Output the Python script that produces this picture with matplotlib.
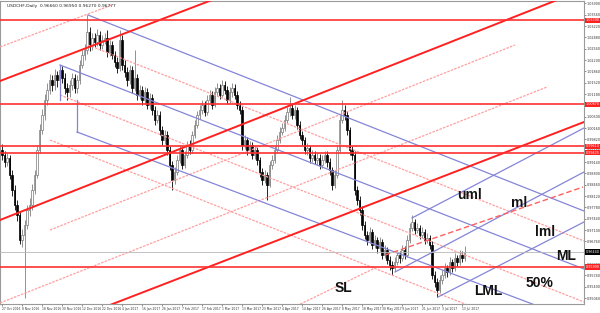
import numpy as np
import matplotlib
matplotlib.use('Agg')
import matplotlib.pyplot as plt
import matplotlib.transforms as mtransforms

# daily USDCHF candles
first_open = 0.9950
closes = [
    0.9935, 0.9914, 0.9926, 0.9875, 0.9830, 0.9785, 0.9755, 0.9680, 0.9695, 0.9725,
    0.9770, 0.9785, 0.9830, 0.9875, 0.9950, 1.0010, 1.0055, 1.0100, 1.0130, 1.0160,
    1.0145, 1.0175, 1.0160, 1.0190, 1.0166, 1.0136, 1.0124, 1.0145, 1.0166, 1.0136,
    1.0160, 1.0205, 1.0235, 1.0250, 1.0304, 1.0265, 1.0286, 1.0274, 1.0295, 1.0265,
    1.0280, 1.0286, 1.0244, 1.0265, 1.0235, 1.0214, 1.0196, 1.0280, 1.0205, 1.0184,
    1.0160, 1.0190, 1.0136, 1.0166, 1.0115, 1.0130, 1.0100, 1.0124, 1.0085, 1.0106,
    1.0070, 1.0040, 1.0055, 1.0010, 0.9980, 0.9995, 0.9950, 0.9905, 0.9860, 0.9884,
    0.9920, 0.9950, 0.9905, 0.9935, 0.9965, 0.9950, 0.9995, 1.0025, 1.0055, 1.0070,
    1.0085, 1.0064, 1.0100, 1.0115, 1.0085, 1.0124, 1.0136, 1.0115, 1.0145, 1.0130,
    1.0100, 1.0124, 1.0136, 1.0115, 1.0085, 1.0070, 0.9965, 0.9980, 0.9950, 0.9965,
    0.9935, 0.9950, 0.9920, 0.9884, 0.9860, 0.9875, 0.9845, 0.9905, 0.9920, 0.9950,
    0.9980, 1.0004, 1.0016, 1.0040, 1.0064, 1.0076, 1.0055, 1.0070, 1.0025, 0.9995,
    0.9980, 0.9950, 0.9956, 0.9926, 0.9935, 0.9920, 0.9926, 0.9905, 0.9920, 0.9935,
    0.9914, 0.9890, 0.9845, 0.9875, 0.9950, 1.0040, 1.0070, 1.0055, 1.0010, 0.9950,
    0.9935, 0.9830, 0.9800, 0.9770, 0.9725, 0.9695, 0.9680, 0.9704, 0.9665, 0.9680,
    0.9656, 0.9674, 0.9635, 0.9650, 0.9620, 0.9605, 0.9596, 0.9614, 0.9635, 0.9626,
    0.9650, 0.9635, 0.9680, 0.9716, 0.9734, 0.9710, 0.9716, 0.9695, 0.9704, 0.9680,
    0.9686, 0.9665, 0.9575, 0.9554, 0.9530, 0.9560, 0.9575, 0.9596, 0.9584, 0.9614,
    0.9596, 0.9626, 0.9614, 0.9635, 0.9626, 0.9644]
highs = [
    0.9968, 0.9947, 0.9941, 0.9934, 0.9890, 0.9846, 0.9801, 0.9768, 0.9712, 0.9740,
    0.9786, 0.9805, 0.9848, 0.9890, 0.9966, 1.0028, 1.0072, 1.0118, 1.0150, 1.0178,
    1.0176, 1.0192, 1.0188, 1.0206, 1.0202, 1.0180, 1.0152, 1.0160, 1.0182, 1.0178,
    1.0174, 1.0220, 1.0250, 1.0268, 1.0355, 1.0318, 1.0302, 1.0300, 1.0312, 1.0306,
    1.0296, 1.0301, 1.0310, 1.0280, 1.0276, 1.0248, 1.0230, 1.0310, 1.0294, 1.0220,
    1.0198, 1.0206, 1.0202, 1.0250, 1.0178, 1.0146, 1.0142, 1.0140, 1.0136, 1.0122,
    1.0118, 1.0082, 1.0070, 1.0066, 1.0022, 1.0010, 1.0006, 0.9962, 0.9918, 0.9900,
    0.9934, 0.9964, 0.9962, 0.9948, 0.9978, 0.9980, 1.0008, 1.0040, 1.0068, 1.0085,
    1.0100, 1.0098, 1.0114, 1.0130, 1.0126, 1.0138, 1.0152, 1.0148, 1.0160, 1.0158,
    1.0142, 1.0138, 1.0150, 1.0148, 1.0126, 1.0098, 1.0082, 0.9995, 0.9990, 0.9978,
    0.9975, 0.9962, 0.9960, 0.9930, 0.9895, 0.9890, 0.9884, 0.9918, 0.9934, 0.9963,
    0.9994, 1.0018, 1.0030, 1.0054, 1.0078, 1.0109, 1.0088, 1.0084, 1.0080, 1.0036,
    1.0008, 0.9990, 0.9970, 0.9966, 0.9950, 0.9948, 0.9942, 0.9938, 0.9934, 0.9948,
    0.9946, 0.9926, 0.9900, 0.9890, 0.9966, 1.0056, 1.0100, 1.0086, 1.0066, 1.0020,
    0.9962, 0.9946, 0.9842, 0.9812, 0.9782, 0.9738, 0.9708, 0.9718, 0.9714, 0.9694,
    0.9690, 0.9688, 0.9684, 0.9664, 0.9660, 0.9632, 0.9618, 0.9628, 0.9648, 0.9646,
    0.9664, 0.9662, 0.9694, 0.9730, 0.9755, 0.9744, 0.9732, 0.9726, 0.9718, 0.9714,
    0.9700, 0.9696, 0.9676, 0.9586, 0.9566, 0.9574, 0.9590, 0.9610, 0.9606, 0.9628,
    0.9624, 0.9640, 0.9636, 0.9650, 0.9646, 0.9662]
lows = [
    0.9921, 0.9898, 0.9902, 0.9862, 0.9812, 0.9770, 0.9738, 0.9668, 0.9660, 0.9506,
    0.9712, 0.9752, 0.9771, 0.9818, 0.9866, 0.9941, 0.9998, 1.0040, 1.0085, 1.0118,
    1.0128, 1.0131, 1.0140, 1.0148, 1.0150, 1.0118, 1.0100, 1.0110, 1.0130, 1.0120,
    1.0122, 1.0148, 1.0195, 1.0220, 1.0238, 1.0248, 1.0250, 1.0258, 1.0262, 1.0250,
    1.0254, 1.0268, 1.0230, 1.0232, 1.0222, 1.0200, 1.0182, 1.0188, 1.0190, 1.0168,
    1.0142, 1.0148, 1.0120, 1.0126, 1.0100, 1.0102, 1.0086, 1.0088, 1.0072, 1.0074,
    1.0056, 1.0025, 1.0030, 0.9996, 0.9965, 0.9968, 0.9936, 0.9890, 0.9830, 0.9848,
    0.9875, 0.9910, 0.9892, 0.9895, 0.9926, 0.9938, 0.9942, 0.9986, 1.0016, 1.0044,
    1.0058, 1.0052, 1.0056, 1.0090, 1.0072, 1.0078, 1.0112, 1.0102, 1.0108, 1.0118,
    1.0088, 1.0092, 1.0110, 1.0104, 1.0072, 1.0058, 0.9950, 0.9952, 0.9936, 0.9940,
    0.9922, 0.9924, 0.9906, 0.9870, 0.9846, 0.9850, 0.9800, 0.9838, 0.9894, 0.9912,
    0.9940, 0.9970, 0.9995, 1.0008, 1.0030, 1.0052, 1.0044, 1.0042, 1.0012, 0.9982,
    0.9966, 0.9938, 0.9936, 0.9912, 0.9914, 0.9908, 0.9906, 0.9892, 0.9896, 0.9910,
    0.9900, 0.9876, 0.9830, 0.9836, 0.9866, 0.9942, 1.0030, 1.0040, 0.9996, 0.9936,
    0.9920, 0.9815, 0.9786, 0.9755, 0.9710, 0.9682, 0.9664, 0.9670, 0.9652, 0.9656,
    0.9642, 0.9646, 0.9622, 0.9626, 0.9608, 0.9590, 0.9575, 0.9586, 0.9604, 0.9612,
    0.9616, 0.9622, 0.9628, 0.9672, 0.9706, 0.9698, 0.9700, 0.9684, 0.9686, 0.9668,
    0.9670, 0.9652, 0.9562, 0.9540, 0.9509, 0.9520, 0.9548, 0.9566, 0.9570, 0.9576,
    0.9584, 0.9588, 0.9602, 0.9604, 0.9614, 0.9618]

date_ticks = list(range(0, 186, 8))
date_labels = ['27 Oct 2016', '8 Nov 2016', '18 Nov 2016', '30 Nov 2016', '12 Dec 2016',
               '22 Dec 2016', '4 Jan 2017', '16 Jan 2017', '26 Jan 2017', '7 Feb 2017',
               '17 Feb 2017', '1 Mar 2017', '13 Mar 2017', '23 Mar 2017', '4 Apr 2017',
               '14 Apr 2017', '26 Apr 2017', '8 May 2017', '18 May 2017', '30 May 2017',
               '9 Jun 2017', '21 Jun 2017', '3 Jul 2017', '13 Jul 2017']
price_ticks = [1.0390, 1.0356, 1.0322, 1.0288, 1.0254, 1.0220, 1.0186, 1.0152, 1.0118,
               1.0084, 1.0050, 1.0016, 0.9982, 0.9948, 0.9914, 0.9880, 0.9846, 0.9812,
               0.9778, 0.9744, 0.9710, 0.9676, 0.9642, 0.9608, 0.9574, 0.9540, 0.9506]

# horizontal support / resistance levels
levels = [1.0339, 1.0087, 0.9961, 0.99425, 0.9599]
last_price = 0.9644

# trend lines: (bar0, price0, bar1, price1)
red_lines = [(-0.8, 1.0157, 84.0, 1.0400),
             (-0.8, 0.9740, 222.0, 1.0400),
             (43.2, 0.9485, 232.8, 1.0034)]
red_dashed = [(153.2, 0.9635, 232.4, 0.9839)]
pink_lines = [(-0.8, 1.0259, 44.0, 1.0385),
              (19.2, 0.9710, 205.2, 1.0265),
              (-0.8, 0.9491, 218.0, 1.0139),
              (115.2, 0.9473, 149.2, 0.9596),
              (34.4, 1.0265, 232.8, 0.9677),
              (23.2, 1.0115, 232.8, 0.9494),
              (19.2, 0.9980, 187.2, 0.9482)]
blue_lines = [(34.4, 1.0355, 232.8, 0.9767),
              (23.2, 1.0205, 232.8, 0.9593),
              (30.0, 1.0004, 213.2, 0.9485),
              (23.2, 1.0205, 23.2, 1.0100),
              (30.0, 1.0100, 30.0, 1.0004),
              (164.0, 0.9746, 232.8, 1.0016),
              (157.2, 0.9584, 232.8, 0.9884),
              (174.4, 0.9509, 232.8, 0.9734)]

labels = [('uml', 186.8, 0.9815), ('ml', 206.8, 0.9791), ('lml', 217.2, 0.9704),
          ('ML', 225.6, 0.9632), ('50%', 214.8, 0.9551), ('LML', 194.4, 0.9527),
          ('SL', 136.4, 0.9536)]

fig = plt.figure(figsize=(6.0, 3.13), dpi=100)
ax = fig.add_axes([0.0, 9 / 313, 584 / 600, 303 / 313])
ax.set_xlim(-0.8, 232.8)
ax.set_ylim(0.9488, 1.0397)

# candles
opens = np.array([first_open] + closes[:-1])
c = np.array(closes)
h = np.array(highs)
l = np.array(lows)
idx = np.arange(len(c))
up = c >= opens
bottom = np.minimum(opens, c)
height = np.maximum(np.abs(c - opens), 0.00012)
ax.vlines(idx[up], l[up], h[up], color='#808080', lw=0.6, zorder=2)
ax.vlines(idx[~up], l[~up], h[~up], color='black', lw=0.6, zorder=2)
ax.bar(idx[up], height[up], bottom=bottom[up], width=0.6, color='white',
       edgecolor='#777777', linewidth=0.5, zorder=3)
ax.bar(idx[~up], height[~up], bottom=bottom[~up], width=0.6, color='black',
       edgecolor='black', linewidth=0.5, zorder=3)

for i0, p0, i1, p1 in pink_lines:
    ax.plot([i0, i1], [p0, p1], color='#ff9f9f', lw=0.9, ls=(0, (2, 1)), zorder=4)
for i0, p0, i1, p1 in blue_lines:
    ax.plot([i0, i1], [p0, p1], color='#8585d8', lw=0.9, zorder=4)
for i0, p0, i1, p1 in red_dashed:
    ax.plot([i0, i1], [p0, p1], color='#ff6060', lw=1.0, ls=(0, (4, 2)), zorder=4)
for i0, p0, i1, p1 in red_lines:
    ax.plot([i0, i1], [p0, p1], color='#ff2020', lw=1.4, zorder=5)

for lv in levels:
    ax.axhline(lv, color='#ff3030', lw=1.2, zorder=5)
ax.axhline(last_price, color='#b8b8b8', lw=0.6, zorder=4)

for txt, xi, yp in labels:
    ax.text(xi, yp, txt, fontsize=10, fontweight='bold', color='#111111',
            ha='center', va='center', family='Liberation Sans', zorder=6)

# right-hand axis boxes
trans = mtransforms.blended_transform_factory(ax.transAxes, ax.transData)
for lv in levels:
    ax.text(1.003, lv, f'{lv:.5f}', transform=trans, fontsize=2.4, color='white',
            va='center', ha='left', clip_on=False,
            bbox=dict(boxstyle='square,pad=0.2', fc='#ff2020', ec='none'))
ax.text(1.003, last_price, f'{last_price:.5f}', transform=trans, fontsize=2.4,
        color='white', va='center', ha='left', clip_on=False,
        bbox=dict(boxstyle='square,pad=0.2', fc='black', ec='none'))

ax.yaxis.tick_right()
ax.set_yticks(price_ticks)
ax.set_yticklabels([f'{p:.5f}' for p in price_ticks])
ax.set_xticks(date_ticks)
ax.set_xticklabels(date_labels)
for t in ax.get_xticklabels():
    t.set_ha('left')
ax.tick_params(axis='y', labelsize=2.4, length=1.2, width=0.4, pad=0.8,
               colors='#333333')
ax.tick_params(axis='x', labelsize=2.2, length=1.5, width=0.4, pad=1,
               colors='#333333')
for s in ax.spines.values():
    s.set_color('#9a9a9a')
    s.set_linewidth(0.8)

fig.text(0.012, 0.982, 'USDCHF,Daily  0.96660 0.96950 0.96270 0.96777',
         fontsize=3.2, color='#222222', va='center')

fig.savefig('out.png', dpi=100, facecolor='white')
